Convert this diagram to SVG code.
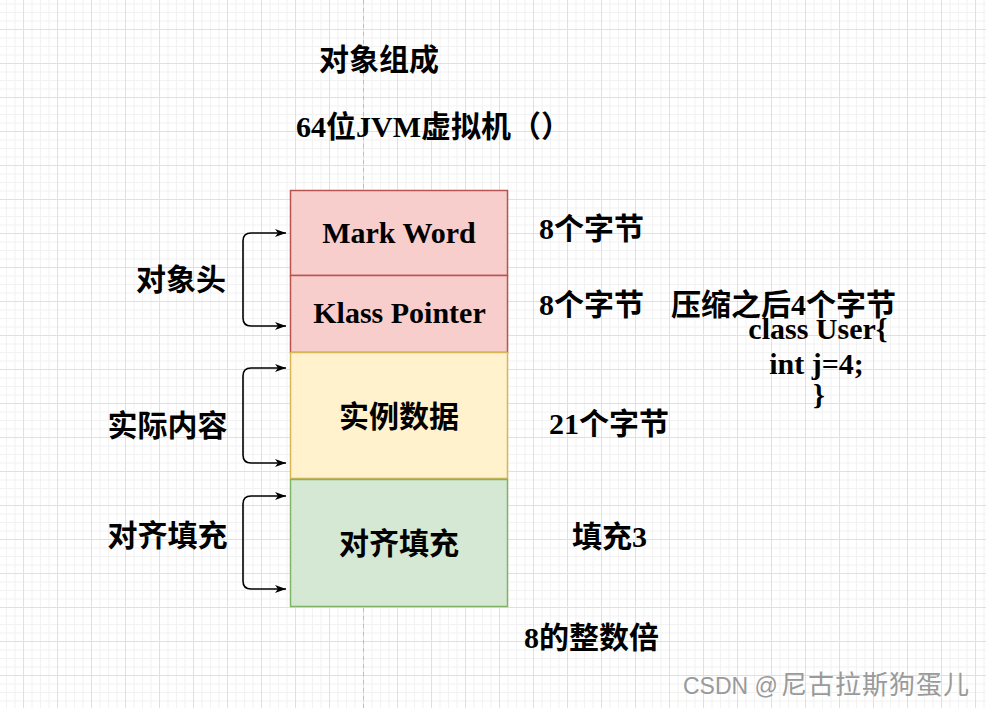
<svg xmlns="http://www.w3.org/2000/svg" width="986" height="708" viewBox="0 0 986 708">
<style>
.t{font-family:"Liberation Serif","Noto Sans CJK SC",serif;font-weight:bold;font-size:30px;fill:#000}
.c{text-anchor:middle}
.conn{fill:none;stroke:#000;stroke-width:1.6}
.wm{font-family:"Liberation Sans","Noto Sans CJK SC",sans-serif;fill:#9a9a9a}
</style>
<defs>
<pattern id="grid" width="34" height="34" patternUnits="userSpaceOnUse" x="23" y="29">
<rect width="34" height="34" fill="#fff"/>
<g fill="#f2f2f2">
<rect x="8.5" y="0" width="1" height="34"/><rect x="17" y="0" width="1" height="34"/><rect x="25.5" y="0" width="1" height="34"/>
<rect x="0" y="8.5" width="34" height="1"/><rect x="0" y="17" width="34" height="1"/><rect x="0" y="25.5" width="34" height="1"/>
</g>
<g fill="#e0e0e0">
<rect x="0" y="0" width="1" height="34"/><rect x="0" y="0" width="34" height="1"/>
</g>
</pattern>
<marker id="arr" markerUnits="userSpaceOnUse" markerWidth="12" markerHeight="10" refX="11" refY="5" orient="auto-start-reverse">
<path d="M0,1 L11,5 L0,9 L3,5 Z" fill="#000"/>
</marker>
</defs>
<rect width="986" height="708" fill="url(#grid)"/>
<line x1="363.5" y1="0" x2="363.5" y2="708" stroke="#bdbdbd" stroke-width="1" stroke-dasharray="4,4"/>

<g id="title"><text class="t" x="319" y="70">对象组成</text></g>
<g id="subtitle"><text class="t" x="296" y="137">64位JVM虚拟机（）</text></g>

<g id="markword">
<rect x="290.5" y="190.5" width="217" height="85" fill="#f8cecc" stroke="#b85450" stroke-width="1.5"/>
<text class="t c" x="399" y="243">Mark Word</text>
</g>
<g id="klasspointer">
<rect x="290.5" y="275.5" width="217" height="77" fill="#f8cecc" stroke="#b85450" stroke-width="1.5"/>
<text class="t c" x="399.5" y="323">Klass Pointer</text>
</g>
<g id="instancedata">
<rect x="290.5" y="352.5" width="217" height="126" fill="#fff2cc" stroke="#d6b656" stroke-width="1.5"/>
<text class="t c" x="399" y="427">实例数据</text>
</g>
<g id="padding">
<rect x="290.5" y="479.5" width="217" height="127" fill="#d5e8d4" stroke="#82b366" stroke-width="1.5"/>
<text class="t c" x="399" y="554">对齐填充</text>
</g>

<g id="connectors">
<path class="conn" d="M286,233 H251 Q243,233 243,241 V318 Q243,326 251,326 H286" marker-start="url(#arr)" marker-end="url(#arr)"/>
<path class="conn" d="M286,368 H251 Q243,368 243,376 V455 Q243,463 251,463 H286" marker-start="url(#arr)" marker-end="url(#arr)"/>
<path class="conn" d="M286,496 H251 Q243,496 243,504 V581 Q243,589 251,589 H286" marker-start="url(#arr)" marker-end="url(#arr)"/>
</g>

<g id="label-header"><text class="t c" x="181" y="290">对象头</text></g>
<g id="label-content"><text class="t c" x="167.5" y="436">实际内容</text></g>
<g id="label-padding"><text class="t c" x="167.5" y="546">对齐填充</text></g>

<g id="size-markword"><text class="t" x="539" y="239">8个字节</text></g>
<g id="size-klass"><text class="t" x="539" y="315">8个字节<tspan x="671">压缩之后4个字节</tspan></text></g>
<g id="code">
<text class="t c" x="818" y="339">class User{</text>
<text class="t c" x="816.5" y="374">int j=4;</text>
<text class="t c" x="819" y="405">}</text>
</g>
<g id="size-instance"><text class="t" x="549" y="434">21个字节</text></g>
<g id="size-padding"><text class="t" x="572" y="547">填充3</text></g>
<g id="multiple"><text class="t" x="524" y="648">8的整数倍</text></g>

<g id="watermark">
<text class="wm" x="683" y="694" font-size="23">CSDN @<tspan x="781" font-size="26" letter-spacing="1">尼古拉斯狗蛋儿</tspan></text>
</g>
</svg>
